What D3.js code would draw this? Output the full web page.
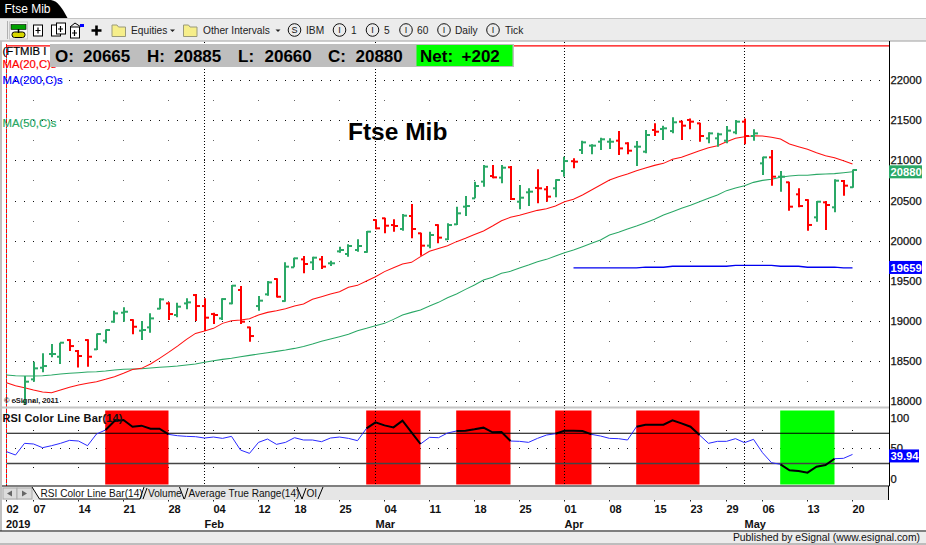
<!DOCTYPE html>
<html><head><meta charset="utf-8">
<script src="https://cdn.jsdelivr.net/npm/d3@7"></script>
<style>html,body{margin:0;padding:0;background:#fff;overflow:hidden}svg{display:block}
text{font-family:"Liberation Sans",Arial,sans-serif}</style></head>
<body><div id="chart"></div>
<script>
const symbolTitle = "Ftse Mib";
const quoteFields = [["O:","20665"],["H:","20885"],["L:","20660"],["C:","20880"]];
const netField = ["Net:","+202"];
const firstBarIndex = 2;
const opens = [17991,18270,18415,18586,18552,18760,18623,18760,18644,18752,
18989,19101,19010,18877,18918,19151,19217,19072,19217,19321,
19184,19084,19030,19217,19384,18918,19184,19330,19521,19246,
19667,19766,19729,19766,19717,19866,19833,19883,19858,20257,
20278,20194,20145,20307,20091,19937,20194,20016,20203,20423,
20527,20735,20805,20785,20914,20485,20602,20657,20639,20652,
20868,20990,21130,21184,21233,21233,21246,21213,21171,21109,
21379,21391,21366,21483,21504,21462,21275,21275,21246,21350,
21483,21304,20963,21038,20797,20727,20577,20506,20290,20477,
20415,20743,20665];
const highs = [18311,18490,18594,18710,18727,18769,18636,18769,18843,18893,
19126,19168,19018,18997,19093,19280,19230,19226,19280,19334,
19280,19101,19280,19446,19434,18926,19309,19496,19529,19729,
19787,19808,19800,19808,19750,19924,19953,20016,20120,20265,
20286,20265,20332,20456,20099,20111,20203,20215,20423,20556,
20735,20943,20943,20943,20930,20693,20652,20889,20681,20764,
21047,21026,21246,21200,21283,21275,21366,21225,21242,21379,
21462,21433,21537,21495,21524,21470,21350,21346,21429,21504,
21524,21387,21046,21130,20868,20735,20652,20515,20494,20494,
20764,20756,20885];
const lows = [17950,18241,18357,18544,18461,18623,18419,18428,18636,18719,
18976,18989,18831,18760,18852,19143,19010,19043,19143,18997,
18872,18960,19010,19205,18960,18739,19126,19313,19292,19238,
19667,19592,19634,19646,19683,19850,19800,19862,19850,20140,
20091,20111,20124,20028,19812,19904,19966,20007,20194,20307,
20527,20672,20776,20714,20506,20390,20431,20465,20485,20539,
20797,20901,21080,21076,21130,21142,21067,21076,20930,21088,
21304,21254,21337,21254,21387,21233,21213,21171,21213,21325,
21200,21246,20818,20685,20610,20373,20415,20124,20236,20132,
20352,20560,20660];
const closes = [18241,18407,18436,18586,18727,18685,18561,18552,18835,18885,
19093,19113,18926,18885,19030,19267,19084,19176,19230,19184,
19039,19072,19271,19438,18989,18810,19251,19479,19300,19675,
19779,19708,19787,19675,19717,19883,19933,19933,20111,20153,
20186,20182,20311,20145,19937,20070,20037,20194,20340,20431,
20681,20922,20789,20909,20519,20535,20610,20652,20548,20756,
20992,20984,21225,21184,21263,21233,21150,21121,21171,21317,
21358,21400,21475,21433,21483,21304,21337,21325,21371,21483,
21304,21337,21038,20797,20797,20423,20431,20195,20485,20444,
20747,20685,20880];
const ma20 = [18228,18191,18166,18137,18112,18104,18137,18170,18199,18220,
18241,18270,18303,18345,18394,18407,18461,18532,18606,18685,
18769,18843,18872,18906,18968,19001,19010,19026,19072,19105,
19126,19151,19184,19209,19268,19301,19334,19363,19417,19442,
19496,19550,19613,19662,19708,19729,19800,19866,19903,19937,
19987,20028,20075,20120,20182,20248,20290,20315,20348,20377,
20398,20431,20485,20515,20569,20631,20693,20756,20797,20830,
20872,20905,20938,20963,21013,21038,21080,21121,21159,21184,
21233,21275,21296,21308,21304,21288,21267,21204,21171,21138,
21096,21059,21034,20997,20955];
const ma50 = [18324,18316,18311,18311,18316,18324,18336,18345,18353,18361,
18365,18374,18386,18395,18399,18403,18411,18420,18428,18436,
18449,18461,18482,18503,18519,18532,18552,18569,18586,18602,
18619,18636,18656,18680,18710,18745,18773,18802,18831,18877,
18906,18939,18968,19018,19072,19105,19135,19184,19230,19288,
19334,19392,19446,19509,19542,19592,19617,19658,19696,19737,
19766,19808,19849,19883,19924,19966,20007,20070,20103,20145,
20182,20224,20265,20319,20361,20402,20440,20485,20527,20569,
20623,20656,20685,20726,20751,20764,20789,20805,20814,20814,
20826,20830,20835,20847,20859];
const ma200Start = 63;
const ma200 = [19659,19659,19659,19659,19659,19659,19659,19659,
19668,19668,19668,
19680,19680,19680,19680,19680,19680,19680,
19692,19692,19692,19692,19692,
19680,19680,19680,
19668,19668,19668,19668,
19659,19659];
const rsi = [44.5,39,58.3,57.2,51.1,54.4,58.3,63.2,62.1,54.4,
73.7,80.3,95.2,96.8,85.8,87.5,82.5,82.5,73.1,70.9,
69.8,69.3,67.1,68.7,66.5,69.8,47.2,41.7,59.9,65.4,
56.6,59.9,67.6,63.8,63.8,61,67.1,68.7,
66.5,62.7,83,93,88,84.7,95.7,76.5,57.2,68.2,
67.6,75.3,78.7,79.2,81.4,84.2,76.5,77,62.1,61.6,
59.9,66.5,72,74.2,79.2,79.2,78.7,73.1,70.4,66.5,
66,63.8,85.8,
89.1,89.1,89.1,96.3,91.3,85.8,72,58.3,61.6,61.6,
66,59.4,64.9,42.8,26.3,23.6,13.6,12.5,9.8,19.7,
22.5,32.9,33.5,39.94];
const zoneStarts = [11,40,50,61,70,86];
const zoneEnds   = [18,46,56,65,77,92];
const zoneKinds  = ["over","over","over","over","over","under"];
const priceTicks = [18000,18500,19000,19500,20000,20500,21000,21500,22000];
const priceSparseRows = [18250,18750,19250,19750,20250,20750,21250,21750];
const topLineValue = 22427;
const lastPriceLabel = "20880", lastMa200Label = "19659", lastRsiLabel = "39.94";
const lastPriceValue = 20880, lastMa200Value = 19659, lastRsiValue = 39.94;
const rsiTicks = [100,50,0];
const rsiLevels = [75,25];
const rsiSparseRows = [80,20];
const rsiDenseRows = [50];
const dayTickIndex = [0,3,8,13,18,23,28,32,37,42,47,52,57,62,67,72,76,80,84,89,94];
const dayTickLabel = ["02","07","14","21","28","04","12","18","25","04","11","18","25","01","08","15","23","29","06","13","20"];
const monthIndex = [22,41,62,82];
const monthLabel = ["Feb","Mar","Apr","May"];
const tabNames = ["RSI Color Line Bar(14)","Volume","Average True Range(14)","OI"];

const W=926,H=545;
const GREEN="#2aa866";
const svg=d3.select("#chart").append("svg").attr("width",W).attr("height",H).attr("viewBox",`0 0 ${W} ${H}`);
const x=d3.scaleLinear().domain([0,94]).range([6.5,852.5]);
const y=d3.scaleLinear().domain([18000,22000]).range([401,80.2]);
const yr=d3.scaleLinear().domain([0,100]).range([478.6,418.1]);

/* window chrome */
svg.append("rect").attr("width",W).attr("height",H).attr("fill","#fff");
svg.append("rect").attr("x",0).attr("y",41).attr("width",2).attr("height",490).attr("fill","#c0c0c0");
svg.append("rect").attr("x",0).attr("y",19).attr("width",W).attr("height",22).attr("fill","#ececec");
svg.append("line").attr("x1",0).attr("x2",W).attr("y1",18.5).attr("y2",18.5).attr("stroke","#c4c4c4");
svg.append("line").attr("x1",0).attr("x2",W).attr("y1",41).attr("y2",41).attr("stroke","#bdbdbd").attr("stroke-width",1.5);
svg.append("path").attr("d","M0,0H51C58,1 62,8 67.5,18H0Z").attr("fill","#000");
svg.append("text").attr("x",4.5).attr("y",13).attr("font-size",12).attr("fill","#fff").text(symbolTitle);

/* toolbar */
const tb=svg.append("g");
tb.append("line").attr("x1",7.5).attr("x2",7.5).attr("y1",21).attr("y2",39).attr("stroke","#b0b0b0");
tb.append("rect").attr("x",9.5).attr("y",22).attr("width",18).attr("height",17).attr("fill","#f6f6f6").attr("stroke","#c8c8c8");
tb.append("rect").attr("x",11).attr("y",24.5).attr("width",15).attr("height",5).attr("fill","#00a000").attr("stroke","#000").attr("stroke-width",.6);
tb.append("rect").attr("x",12).attr("y",32).attr("width",13).attr("height",5.5).attr("rx",2.5).attr("fill","#d8d800").attr("stroke","#000");
tb.append("line").attr("x1",18.5).attr("x2",18.5).attr("y1",29).attr("y2",33).attr("stroke","#000").attr("stroke-width",1.5);
[[33,25],[51,25],[56,23],[70,27]].forEach(([a,b],k)=>{
  tb.append("rect").attr("x",a+.5).attr("y",b).attr("width",9).attr("height",11).attr("fill","#fff").attr("stroke","#000").attr("stroke-width",1);
});
[[38,30.5],[60.5,29],[74.5,33]].forEach(([a,b])=>{
  tb.append("path").attr("d",`M${a-2.5},${b}h5M${a},${b-3}v6`).attr("stroke","#000").attr("stroke-width",1.2).attr("fill","none");
});
tb.append("path").attr("d","M70,27l5,-4l6,4").attr("fill","none").attr("stroke","#000");
tb.append("rect").attr("x",80).attr("y",24).attr("width",4).attr("height",3).attr("fill","#00f");
tb.append("path").attr("d","M91.5,30.5h10M96.5,25.5v10").attr("stroke","#000").attr("stroke-width",2.6);
[112,183.5].forEach(a=>{
  tb.append("path").attr("d",`M${a},25h5l1.5,2h7v9.5h-13.5Z`).attr("fill","#f6ee8a").attr("stroke","#9a9a7a");
});
const tbText=(px,s)=>tb.append("text").attr("x",px).attr("y",33.5).attr("font-size",10.2).attr("fill","#222").text(s);
tbText(131,"Equities");tbText(203,"Other Intervals");
[172.5,278].forEach(a=>tb.append("path").attr("d",`M${a-2.5},29.5h5l-2.5,2.5Z`).attr("fill","#222"));
[[294.5,"S"],[339.5,"I"],[372.5,"I"],[406,"I"],[444,"I"],[493,"I"]].forEach(([c,l])=>{
  tb.append("circle").attr("cx",c).attr("cy",30).attr("r",6.3).attr("fill","none").attr("stroke","#111");
  tb.append("text").attr("x",c).attr("y",33.3).attr("text-anchor","middle").attr("font-size",9).attr("fill","#111").text(l);
});
[[306,"IBM"],[351,"1"],[384,"5"],[417,"60"],[455,"Daily"],[505,"Tick"]].forEach(([a,s])=>tbText(a,s));

/* dotted grid */
const grid=svg.append("g").attr("fill","#111");
const denseIdx=d3.range(1,98);
priceTicks.forEach(p=>denseIdx.forEach(i=>grid.append("rect").attr("x",Math.floor(x(i))).attr("y",Math.round(y(p))).attr("width",1).attr("height",1)));
priceSparseRows.forEach(p=>dayTickIndex.slice(1).forEach(i=>grid.append("rect").attr("x",Math.floor(x(i))).attr("y",Math.round(y(p))).attr("width",1).attr("height",1).attr("fill","#666")));
rsiDenseRows.forEach(v=>denseIdx.forEach(i=>grid.append("rect").attr("x",Math.floor(x(i))).attr("y",Math.round(yr(v))).attr("width",1).attr("height",1)));
rsiSparseRows.forEach(v=>dayTickIndex.slice(1).forEach(i=>grid.append("rect").attr("x",Math.floor(x(i))).attr("y",Math.round(yr(v))).attr("width",1).attr("height",1)));

/* RSI zones */
svg.append("g").selectAll("rect").data(zoneStarts).join("rect")
  .attr("x",(d)=>x(d)-.3).attr("width",(d,k)=>x(zoneEnds[k])-x(d)+.3)
  .attr("y",410.5).attr("height",74)
  .attr("fill",(d,k)=>zoneKinds[k]==="over"?"#ff0000":"#00ff00");

/* vertical dotted month lines */
svg.append("g").selectAll("line").data(monthIndex).join("line")
  .attr("x1",d=>Math.floor(x(d))+.5).attr("x2",d=>Math.floor(x(d))+.5)
  .attr("y1",42).attr("y2",486).attr("stroke","#000").attr("stroke-width",1).attr("stroke-dasharray","1,2");

/* left start marker, top line */
svg.append("line").attr("x1",6.5).attr("x2",6.5).attr("y1",44).attr("y2",486).attr("stroke","#00e0e0");
svg.append("line").attr("x1",6.5).attr("x2",6.5).attr("y1",44).attr("y2",486).attr("stroke","#ff0000").attr("stroke-dasharray","4,1");
svg.append("line").attr("x1",6).attr("x2",889).attr("y1",y(topLineValue)).attr("y2",y(topLineValue)).attr("stroke","#ff0000").attr("stroke-width",1.2);

/* moving averages */
const lineGen=d3.line().x(d=>x(d.i)).y(d=>y(d.v));
const pts=(a,s=0)=>a.map((v,k)=>({i:k+s,v}));
const maG=svg.append("g").attr("fill","none");
maG.append("path").attr("d",lineGen(pts(ma50))).attr("stroke",GREEN).attr("stroke-width",1.05);
maG.append("path").attr("d",lineGen(pts(ma20))).attr("stroke","#ff1010").attr("stroke-width",1.05);
maG.append("path").attr("d",lineGen(pts(ma200,ma200Start))).attr("stroke","#0000f0").attr("stroke-width",1.3);

/* OHLC bars */
const bars=d3.range(opens.length).map(k=>({i:k+firstBarIndex,o:opens[k],h:highs[k],l:lows[k],c:closes[k]}));
const barG=svg.append("g").selectAll("g").data(bars).join("g")
  .attr("stroke",d=>d.c>=d.o?GREEN:"#ff0000").attr("stroke-width",2).attr("fill","none");
barG.append("line").attr("x1",d=>Math.round(x(d.i))).attr("x2",d=>Math.round(x(d.i))).attr("y1",d=>y(d.h)).attr("y2",d=>y(d.l));
barG.append("line").attr("x1",d=>Math.round(x(d.i))-3).attr("x2",d=>Math.round(x(d.i))).attr("y1",d=>y(d.o)).attr("y2",d=>y(d.o));
barG.append("line").attr("x1",d=>Math.round(x(d.i))).attr("x2",d=>Math.round(x(d.i))+4).attr("y1",d=>y(d.c)).attr("y2",d=>y(d.c));

/* RSI */
const rsiLine=d3.line().x(d=>x(d.i)).y(d=>yr(d.v));
const rsiG=svg.append("g").attr("fill","none");
rsiLevels.forEach((v,k)=>rsiG.append("line").attr("x1",7).attr("x2",889).attr("y1",yr(v)).attr("y2",yr(v)).attr("stroke",k?"#444":"#000").attr("stroke-width",k?1.4:1.2));
rsiG.append("path").attr("d",rsiLine(pts(rsi))).attr("stroke","#2a2aff").attr("stroke-width",1);
zoneStarts.forEach((s,k)=>{
  const seg=d3.range(s,zoneEnds[k]+1).map(i=>({i,v:rsi[i]}));
  rsiG.append("path").attr("d",rsiLine(seg)).attr("stroke","#000").attr("stroke-width",2);
});

/* titles and indicator labels */
svg.append("text").attr("x",348).attr("y",140).attr("font-size",24.5).attr("font-weight","bold").attr("fill","#000").text(symbolTitle);
const lab=(px,py,s,c,sz=11.3)=>svg.append("text").attr("x",px).attr("y",py).attr("font-size",sz).attr("fill",c).attr("stroke",c).attr("stroke-width",.2).text(s);
lab(2.5,55,"(FTMIB I","#000");
lab(2.5,68,"MA(20,C)s","#ff0000");
lab(2.5,84,"MA(200,C)s","#0000ff");
lab(2.5,127,"MA(50,C)s",GREEN);
svg.append("text").attr("x",4).attr("y",403).attr("font-size",7.5).attr("font-weight","bold").attr("fill","#222").text("© eSignal, 2011");
svg.append("text").attr("x",2.5).attr("y",421.5).attr("font-size",11).attr("font-weight","bold").attr("letter-spacing",".15px").attr("fill","#111").text("RSI Color Line Bar(14)");

/* quote box */
const qb=svg.append("g");
qb.append("rect").attr("x",50).attr("y",44).attr("width",464).attr("height",23).attr("fill","#bebebe");
qb.append("rect").attr("x",416.5).attr("y",45).attr("width",96).attr("height",21).attr("fill","#00ff00");
const qx=[[55,83],[147,174],[238,264.5],[328,355.5]];
quoteFields.forEach(([a,b],k)=>{
  qb.append("text").attr("x",qx[k][0]).attr("y",62).attr("font-size",17).attr("font-weight","bold").attr("fill","#000").text(a);
  qb.append("text").attr("x",qx[k][1]).attr("y",62).attr("font-size",17).attr("font-weight","bold").attr("fill","#000").text(b);
});
qb.append("text").attr("x",420).attr("y",62).attr("font-size",17).attr("font-weight","bold").attr("fill","#000").text(netField[0]);
qb.append("text").attr("x",461.5).attr("y",62).attr("font-size",17).attr("font-weight","bold").attr("fill","#000").text(netField[1]);

/* pane frame */
svg.append("rect").attr("x",2).attr("y",406.5).attr("width",887).attr("height",2).attr("fill","#c6c6c6");
svg.append("line").attr("x1",889.5).attr("x2",889.5).attr("y1",41).attr("y2",486).attr("stroke","#000");
svg.append("line").attr("x1",2).attr("x2",889.5).attr("y1",486).attr("y2",486).attr("stroke","#000").attr("stroke-width",1.2);

/* right axes */
const yAxis=d3.axisRight(y).tickValues(priceTicks).tickSize(0).tickPadding(0).tickFormat(d3.format("d"));
const gy=svg.append("g").attr("transform","translate(890.5,0)").call(yAxis);
gy.select(".domain").remove();
gy.selectAll("text").attr("font-size",11.2).attr("font-family","'Liberation Sans'").attr("fill","#111").attr("stroke","#111").attr("stroke-width",.25);
const rAxis=d3.axisRight(yr).tickValues(rsiTicks).tickSize(0).tickPadding(0).tickFormat(d3.format("d"));
const gr=svg.append("g").attr("transform","translate(890.5,0)").call(rAxis);
gr.select(".domain").remove();
gr.selectAll("text").attr("font-size",11.2).attr("font-family","'Liberation Sans'").attr("fill","#111").attr("stroke","#111").attr("stroke-width",.25);
const tag=(v,s,fill,yy,w)=>{
  svg.append("rect").attr("x",889).attr("y",yy-6.5).attr("width",w).attr("height",13).attr("fill",fill);
  svg.append("text").attr("x",890.5).attr("y",yy+4.2).attr("font-size",11.2).attr("font-weight","bold").attr("fill","#fff").text(s);
};
tag(lastPriceValue,lastPriceLabel,GREEN,y(lastPriceValue)+1.8,33);
tag(lastMa200Value,lastMa200Label,"#0000ff",y(lastMa200Value)-.5,33);
tag(lastRsiValue,lastRsiLabel,"#0000ff",yr(lastRsiValue)+1.5,30);

/* tab strip */
const ts=svg.append("g");
ts.append("rect").attr("x",2).attr("y",487).attr("width",886).attr("height",13).attr("fill","#e6e6e6");
ts.append("line").attr("x1",888.5).attr("x2",888.5).attr("y1",486).attr("y2",500).attr("stroke","#000");
ts.append("rect").attr("x",3).attr("y",488).attr("width",14).attr("height",11).attr("fill","#dcdcdc").attr("stroke","#aaa");
ts.append("rect").attr("x",17).attr("y",488).attr("width",15).attr("height",11).attr("fill","#dcdcdc").attr("stroke","#aaa");
ts.append("path").attr("d","M7,493.5l5,-3v6Z").attr("fill","#666");
ts.append("path").attr("d","M27,493.5l-5,-3v6Z").attr("fill","#666");
ts.append("path").attr("d","M32,487L39.5,499H140L144,487Z").attr("fill","#fff");
ts.append("path").attr("d","M32,487L39.5,499H140L144,487M143,499L147,488M179.5,487L184,499M184.5,499L188,488M297,487L302,499M302,499L306,488").attr("fill","none").attr("stroke","#000");
ts.append("path").attr("d","M318,499L323,487").attr("fill","none").attr("stroke","#000");
const tabX=[40.5,148,188.5,306.5];
ts.selectAll("text").data(tabNames).join("text").attr("x",(d,k)=>tabX[k]).attr("y",497).attr("font-size",10.1).attr("fill","#111").text(d=>d);

/* time axis */
const tG=svg.append("g");
tG.selectAll("rect").data(dayTickIndex).join("rect").attr("x",d=>Math.floor(x(d))).attr("y",500).attr("width",1).attr("height",1.5).attr("fill","#222");
tG.selectAll(".d").data(dayTickIndex).join("text").attr("class","d").attr("x",d=>x(d)).attr("y",512.5).attr("font-size",11).attr("font-weight","bold").attr("fill","#111").text((d,k)=>dayTickLabel[k]);
tG.selectAll(".m").data(monthIndex).join("text").attr("class","m").attr("x",d=>x(d)).attr("y",527.5).attr("font-size",11).attr("font-weight","bold").attr("fill","#111").text((d,k)=>monthLabel[k]);
tG.append("text").attr("x",6).attr("y",527.5).attr("font-size",11).attr("font-weight","bold").attr("fill","#111").text("2019");

/* status bar */
svg.append("rect").attr("x",0).attr("y",532).attr("width",W).attr("height",11).attr("fill","#ececec");
svg.append("rect").attr("x",0).attr("y",543).attr("width",W).attr("height",2).attr("fill","#bdbdbd");
svg.append("line").attr("x1",0).attr("x2",W).attr("y1",531).attr("y2",531).attr("stroke","#000").attr("stroke-width",1.2);
svg.append("text").attr("x",920).attr("y",541).attr("text-anchor","end").attr("font-size",10.4).attr("fill","#111").text("Published by eSignal (www.esignal.com)");
</script></body></html>
